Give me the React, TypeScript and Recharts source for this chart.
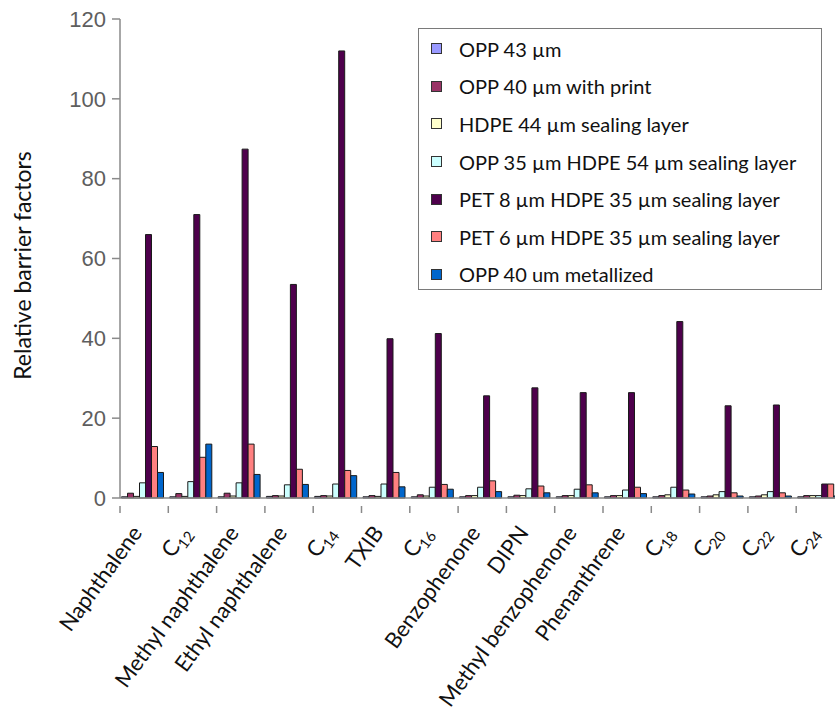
import React from 'react';
import { BarChart, Bar, XAxis, YAxis, Label } from 'recharts';

// Substances measured (Cnn entries are n-alkanes, drawn with a subscript)
const categories = [
  'Naphthalene', 'C12', 'Methyl naphthalene', 'Ethyl naphthalene', 'C14', 'TXIB', 'C16',
  'Benzophenone', 'DIPN', 'Methyl benzophenone', 'Phenanthrene', 'C18', 'C20', 'C22', 'C24',
];

// Relative barrier factor per packaging film
const opp43 = [0.3, 0.3, 0.3, 0.4, 0.4, 0.3, 0.3, 0.3, 0.3, 0.3, 0.3, 0.3, 0.3, 0.3, 0.3];
const opp40Print = [1.2, 1.1, 1.2, 0.6, 0.6, 0.6, 0.8, 0.6, 0.7, 0.6, 0.6, 0.6, 0.5, 0.5, 0.6];
const hdpe44 = [0.4, 0.4, 0.5, 0.5, 0.5, 0.4, 0.5, 0.6, 0.6, 0.6, 0.6, 0.8, 0.8, 0.8, 0.6];
const opp35Hdpe54 = [3.8, 4.1, 3.8, 3.3, 3.5, 3.5, 2.7, 2.7, 2.3, 2.2, 2.0, 2.7, 1.6, 1.6, 0.6];
const pet8Hdpe35 = [66, 71, 87.4, 53.5, 112, 39.9, 41.2, 25.6, 27.6, 26.4, 26.4, 44.2, 23.1, 23.3, 3.5];
const pet6Hdpe35 = [12.9, 10.2, 13.5, 7.2, 6.9, 6.4, 3.4, 4.3, 3.0, 3.3, 2.7, 2.0, 1.3, 1.3, 3.5];
const opp40Met = [6.4, 13.5, 5.9, 3.4, 5.6, 2.8, 2.2, 1.6, 1.3, 1.3, 1.1, 1.0, 0.5, 0.5, 0.5];

const yTicks = [0, 20, 40, 60, 80, 100, 120];

const seriesList = [
  { key: 'opp43', name: 'OPP 43 µm', color: '#9999FF', values: opp43 },
  { key: 'opp40Print', name: 'OPP 40 µm with print', color: '#993366', values: opp40Print },
  { key: 'hdpe44', name: 'HDPE 44 µm sealing layer', color: '#FFFFCC', values: hdpe44 },
  { key: 'opp35Hdpe54', name: 'OPP 35 µm HDPE 54 µm sealing layer', color: '#CCFFFF', values: opp35Hdpe54 },
  { key: 'pet8Hdpe35', name: 'PET 8 µm HDPE 35 µm sealing layer', color: '#4E004C', values: pet8Hdpe35 },
  { key: 'pet6Hdpe35', name: 'PET 6 µm HDPE 35 µm sealing layer', color: '#FF8080', values: pet6Hdpe35 },
  { key: 'opp40Met', name: 'OPP 40 um metallized', color: '#0066CC', values: opp40Met },
];

const data = categories.map((name, i) => {
  const row: Record<string, string | number> = { name };
  seriesList.forEach((s) => {
    row[s.key] = s.values[i];
  });
  return row;
});

const CHART_W = 850;
const CHART_H = 722;
const Y_AXIS_W = 120;
const MARGIN = { top: 19, right: 5.5, bottom: 0, left: 0 };
const BAND = (CHART_W - Y_AXIS_W - MARGIN.left - MARGIN.right) / categories.length;

const TEXT_FONT = 'Lato, "Open Sans", sans-serif';
const AXIS_GRAY = '#8a8a8a';

const CategoryTick = (props: any) => {
  const { x, y, payload } = props;
  const half = payload && typeof payload.offset === 'number' && payload.offset > 0 ? payload.offset : BAND / 2;
  const label: string = String(payload.value);
  const m = /^C(\d+)$/.exec(label);
  return (
    <g>
      <line x1={x - half} x2={x - half} y1={y} y2={y + 7} stroke={AXIS_GRAY} strokeWidth={1.5} />
      <g transform={`translate(${x - 1},${y + 27})`}>
        <text transform="rotate(-54)" textAnchor="end" fontFamily={TEXT_FONT} fontSize={22} fill="#111">
          {m ? (
            <>
              <tspan>C</tspan>
              <tspan fontSize={15} dy={5}>{m[1]}</tspan>
            </>
          ) : (
            label
          )}
        </text>
      </g>
    </g>
  );
};

// Boxed legend, listed in series order
const LegendBox = () => (
  <div
    style={{
      position: 'absolute',
      left: 418,
      top: 28,
      width: 404,
      height: 262,
      boxSizing: 'border-box',
      border: '1.5px solid #7a7a7a',
      background: '#fff',
      paddingTop: 1,
    }}
  >
    {seriesList.map((s) => (
      <div key={s.key} style={{ display: 'flex', alignItems: 'center', height: 37.6, paddingLeft: 12 }}>
        <span
          style={{
            display: 'inline-block',
            width: 9,
            height: 9,
            background: s.color,
            border: '1px solid #333',
            marginRight: 17,
          }}
        />
        <span style={{ fontFamily: TEXT_FONT, fontSize: 20, color: '#111', whiteSpace: 'nowrap' }}>
          {s.name}
        </span>
      </div>
    ))}
  </div>
);

const YTitle = (props: any) => {
  const vb = props.viewBox || { x: 0, y: 0, width: 0, height: 0 };
  const cx = 22;
  const cy = vb.y + vb.height / 2 + 7;
  return (
    <text
      x={cx}
      y={cy}
      transform={`rotate(-90, ${cx}, ${cy})`}
      textAnchor="middle"
      dominantBaseline="central"
      fontFamily={TEXT_FONT}
      fontSize={23}
      fill="#111"
    >
      Relative barrier factors
    </text>
  );
};

export default function App() {
  return (
    <div
      style={{
        position: 'fixed',
        left: 0,
        top: 0,
        width: 835,
        height: 722,
        overflow: 'hidden',
        background: '#fff',
      }}
    >
      <BarChart
        width={CHART_W}
        height={CHART_H}
        data={data}
        margin={MARGIN}
        barCategoryGap={1.5}
        barGap={0}
      >
        <XAxis
          dataKey="name"
          interval={0}
          height={CHART_H - MARGIN.top - MARGIN.bottom - 479}
          axisLine={{ stroke: AXIS_GRAY, strokeWidth: 1.5 }}
          tickLine={false}
          tick={<CategoryTick />}
        />
        <YAxis
          width={Y_AXIS_W}
          domain={[0, 120]}
          ticks={yTicks}
          interval={0}
          axisLine={{ stroke: AXIS_GRAY, strokeWidth: 1.5 }}
          tickLine={{ stroke: AXIS_GRAY, strokeWidth: 1.5 }}
          tickSize={8}
          tickMargin={6}
          tick={{ fontFamily: '"Liberation Sans", Arial, sans-serif', fontSize: 22, fill: '#5e5e5e' }}
        >
          <Label content={<YTitle />} />
        </YAxis>
        {seriesList.map((s) => (
          <Bar
            key={s.key}
            dataKey={s.key}
            name={s.name}
            fill={s.color}
            stroke="#1a1a1a"
            strokeWidth={1}
            isAnimationActive={false}
          />
        ))}
      </BarChart>
      <LegendBox />
    </div>
  );
}
